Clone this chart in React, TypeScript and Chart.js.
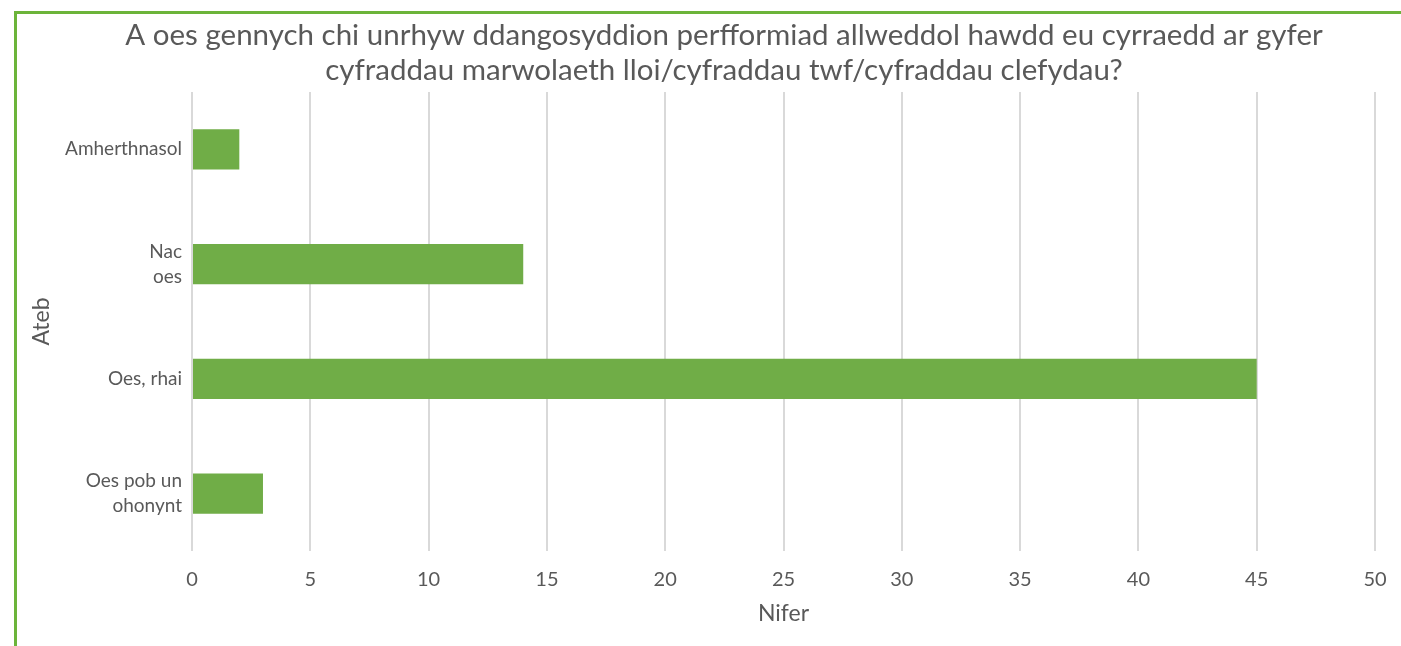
import React, { useEffect, useRef } from "react";
import { Chart, registerables } from "chart.js";

Chart.register(...registerables);

const titleLines = [
  "A oes gennych chi unrhyw ddangosyddion perfformiad allweddol hawdd eu cyrraedd ar gyfer",
  "cyfraddau marwolaeth lloi/cyfraddau twf/cyfraddau clefydau?",
];
const categories: (string | string[])[] = [
  "Amherthnasol",
  ["Nac", "oes"],
  "Oes, rhai",
  ["Oes pob un", "ohonynt"],
];
const values = [2, 14, 45, 3];
const xTicks = [0, 5, 10, 15, 20, 25, 30, 35, 40, 45, 50];
const xTitle = "Nifer";
const yTitle = "Ateb";

const FONT = "Lato, 'Open Sans', sans-serif";
const TEXT = "#595959";
const GREEN = "#70ad47";

export default function App() {
  const ref = useRef<HTMLCanvasElement | null>(null);

  useEffect(() => {
    if (!ref.current) return;
    const chart = new Chart(ref.current, {
      type: "bar",
      data: {
        labels: categories,
        datasets: [
          {
            data: values,
            backgroundColor: GREEN,
            borderWidth: 0,
            barPercentage: 1,
            categoryPercentage: 0.35,
          },
        ],
      },
      options: {
        indexAxis: "y",
        animation: false,
        responsive: true,
        maintainAspectRatio: false,
        layout: { padding: { left: 0, right: 0, top: 0, bottom: 0 } },
        plugins: {
          legend: { display: false },
          tooltip: { enabled: false },
          title: {
            display: true,
            text: titleLines,
            color: TEXT,
            font: { family: FONT, size: 29.5, weight: "normal", lineHeight: 1.186 },
            padding: { top: 18, bottom: 4 },
          },
        },
        scales: {
          x: {
            min: 0,
            max: 50,
            afterBuildTicks: (scale: any) => {
              scale.ticks = xTicks.map((v) => ({ value: v }));
            },
            afterFit: (scale: any) => {
              scale.height = 95;
              scale.paddingRight = 73;
            },
            grid: { color: "#d9d9d9", lineWidth: 2, drawTicks: false },
            border: { display: false },
            ticks: {
              color: TEXT,
              padding: 17,
              font: { family: FONT, size: 20, lineHeight: 1.2 },
            },
            title: {
              display: true,
              text: xTitle,
              color: TEXT,
              font: { family: FONT, size: 23, lineHeight: 1.2 },
              padding: { top: 0, bottom: 19 },
            },
          },
          y: {
            afterFit: (scale: any) => {
              scale.width = 192;
            },
            grid: { display: false, drawTicks: false },
            border: { display: false },
            ticks: {
              color: TEXT,
              padding: 10,
              font: { family: FONT, size: 19, lineHeight: 1.3 },
            },
            title: {
              display: true,
              text: yTitle,
              color: TEXT,
              font: { family: FONT, size: 23, lineHeight: 1.2 },
              padding: { top: 28, bottom: 0 },
            },
          },
        },
      },
    });
    return () => chart.destroy();
  }, []);

  return (
    <div
      style={{
        position: "fixed",
        left: 0,
        top: 0,
        width: 1401,
        height: 646,
        overflow: "hidden",
        background: "#fff",
      }}
    >
      <div style={{ position: "absolute", left: 0, top: 0, width: 1448, height: 646 }}>
        <canvas ref={ref} />
      </div>
      <div
        style={{
          position: "absolute",
          left: 14,
          top: 11,
          width: 1500,
          height: 700,
          borderLeft: "3px solid #6cb43a",
          borderTop: "3px solid #6cb43a",
          pointerEvents: "none",
        }}
      />
    </div>
  );
}
